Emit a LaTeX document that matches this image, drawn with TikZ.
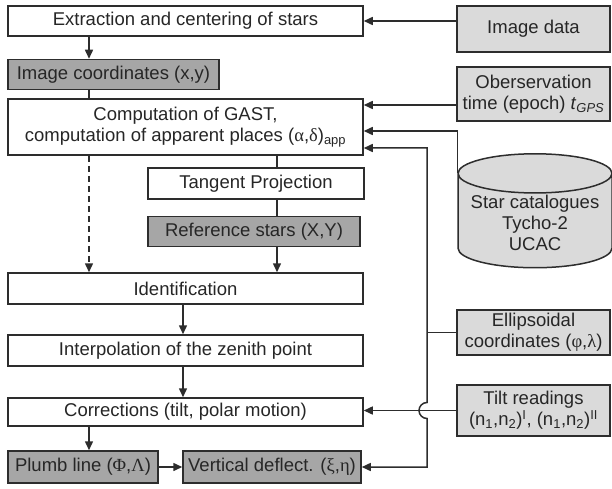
\documentclass[tikz,border=0pt]{standalone}
\usepackage{amsmath}
\usepackage{fontspec}
\setmainfont{Liberation Sans}
\newfontfamily\grk{Liberation Serif}
\usetikzlibrary{arrows.meta,shapes.geometric,calc}

\definecolor{darkbox}{RGB}{166,166,166}
\definecolor{lightbox}{RGB}{218,218,218}
\definecolor{edge}{RGB}{45,45,45}

\begin{document}
\begin{tikzpicture}[x=1pt,y=1pt,line width=1.5pt,draw=edge,>={Triangle[length=9pt,width=8pt]}]
    % `process' is used for the white computing steps,
    % `result' for the dark grey results, `input' and `store' for the data on the right.
    \tikzstyle{box} = [draw=edge,inner sep=1pt,align=center,text=black!85,font=\fontsize{18.5}{21}\selectfont]
    \tikzstyle{process} = [box,fill=white,minimum width=355pt]
    \tikzstyle{result} = [box,fill=darkbox,minimum height=30pt]
    \tikzstyle{input} = [box,fill=lightbox,minimum width=153pt]
    \tikzstyle{store} = [box,fill=lightbox,cylinder,shape border rotate=90,aspect=0.3,minimum width=154pt,minimum height=92pt]
    %
    \useasboundingbox (0,0) rectangle (612,-489);
    % Left column.
    \node[process,minimum height=30pt] (extract) at (185.5,-21) {Extraction and centering of stars};
    \node[result,minimum width=211pt] (imgcoord) at (113.5,-74.5) {Image coordinates (x,y)};
    \node[process,minimum height=56pt] (gast) at (185.5,-127) {Computation of GAST,\\computation of apparent places ({\grk α},{\grk δ})\textsubscript{app}};
    \node[process,minimum width=216pt,minimum height=31pt] (tangent) at (256,-183.5) {Tangent Projection};
    \node[result,minimum width=212pt] (refstars) at (254,-231.5) {Reference stars (X,Y)};
    \node[process,minimum height=31pt] (ident) at (185.5,-288.5) {Identification};
    \node[process,minimum height=31pt] (interp) at (185.5,-350.5) {Interpolation of the zenith point};
    \node[process,minimum height=28pt] (corr) at (185.5,-412) {Corrections (tilt, polar motion)};
    \node[result,minimum width=150pt,minimum height=32pt] (plumb) at (83,-467) {Plumb line ({\grk Φ},{\grk Λ})};
    \node[result,minimum width=178pt,minimum height=32pt] (vdefl) at (272,-467) {Vertical deflect. ({\grk ξ},{\grk η})};
    % Right column.
    \node[input,minimum height=46pt] (imgdata) at (533.5,-29) {Image data};
    \node[input,minimum height=54pt] (obstime) at (533.5,-94) {Oberservation\\time (epoch) \textit{t}\textsubscript{\textit{GPS}}};
    \node[store] (cat) at (535,-222.5) {Star catalogues\\Tycho-2\\UCAC};
    \node[input,minimum height=45pt] (ellip) at (533.5,-332.5) {Ellipsoidal\\coordinates ({\grk φ},{\grk λ})};
    \node[input,minimum height=51pt] (tilt) at (533.5,-410.5) {Tilt readings\\(n\textsubscript{1},n\textsubscript{2})\textsuperscript{I}, (n\textsubscript{1},n\textsubscript{2})\textsuperscript{II}};
    %
    \coordinate (lcol) at (89,0);
    \coordinate (mcol) at (277,0);
    \coordinate (ccol) at (183,0);
    \coordinate (bus) at (427,0);
    \coordinate (gin1) at ($(gast.east)+(0,22)$);
    \coordinate (gin2) at ($(gast.east)+(0,-4)$);
    \coordinate (gin3) at ($(gast.east)+(0,-21)$);
    % Flow down the left column.
    \draw[->] (lcol |- extract.south) -- (lcol |- imgcoord.north);
    \draw (lcol |- imgcoord.south) -- (lcol |- gast.north);
    \draw[->,dash pattern=on 6pt off 4pt] (lcol |- gast.south) -- (lcol |- ident.north);
    \draw (mcol |- gast.south) -- (mcol |- tangent.north);
    \draw (mcol |- tangent.south) -- (mcol |- refstars.north);
    \draw[->] (mcol |- refstars.south) -- (mcol |- ident.north);
    \draw[->] (ccol |- ident.south) -- (ccol |- interp.north);
    \draw[->] (ccol |- interp.south) -- (ccol |- corr.north);
    \draw[->] (lcol |- corr.south) -- (lcol |- plumb.north);
    \draw[->] (plumb) -- (vdefl);
    % Inputs from the right.
    \draw[->] (imgdata.west |- extract.east) -- (extract.east);
    \draw[->] (obstime.west |- gin1) -- (gin1);
    \draw[->] (cat.before top) |- (gin2);
    \draw (ellip.west) -- (bus |- ellip.west);
    \draw[->] (tilt.west) -- (tilt.west -| corr.east);
    \draw[<->] (gin3) -- (bus |- gin3) -- ($(bus |- tilt.west)+(0,8)$)
        arc[start angle=90,end angle=270,radius=8] -- (bus |- vdefl.east) -- (vdefl.east);
\end{tikzpicture}
\end{document}
